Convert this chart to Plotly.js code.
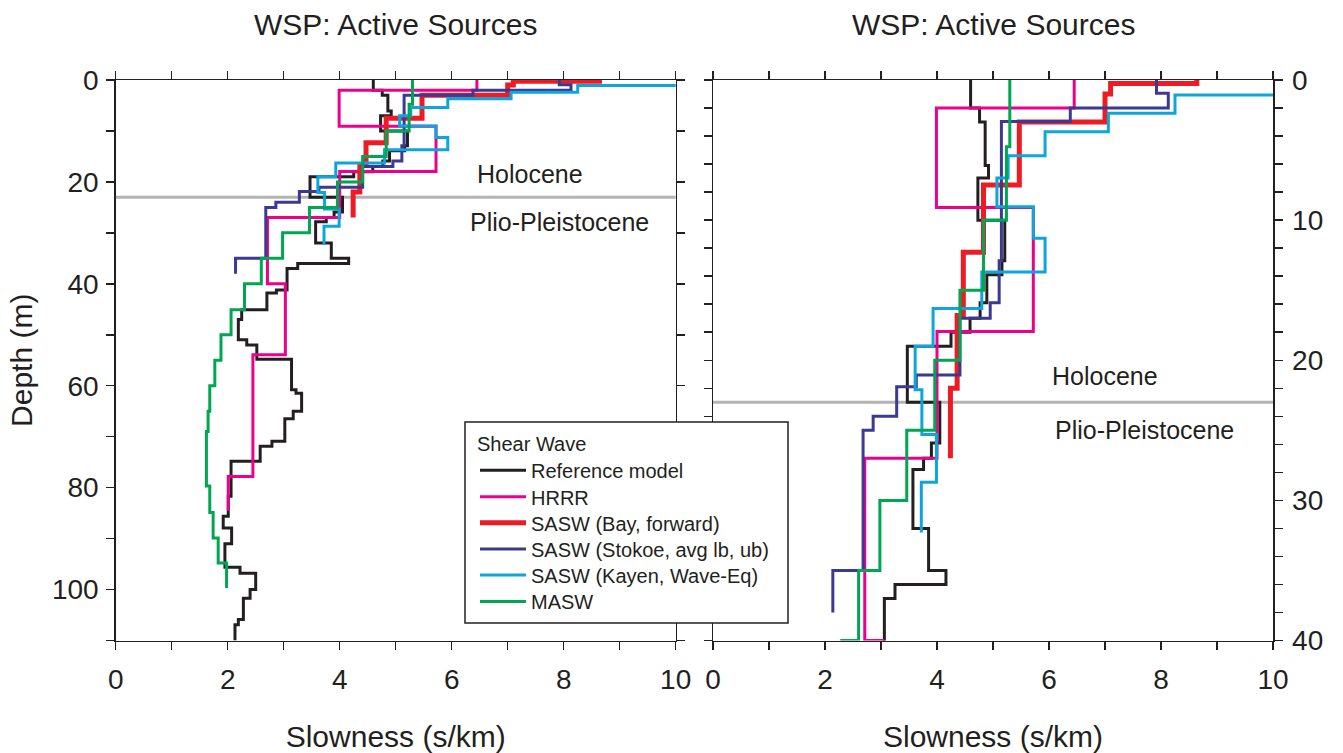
<!DOCTYPE html>
<html>
<head>
<meta charset="utf-8">
<script src="https://cdn.plot.ly/plotly-3.0.1.min.js"></script>
<style>
  html, body { margin: 0; padding: 0; background: #ffffff; }
  #chart { width: 1343px; height: 753px; }
</style>
</head>
<body>
<div id="chart"></div>
<script>
// ---------------- DATA ----------------
// Each profile: layer top depths (m), final bottom depth (m), slowness per layer (s/km)
const seriesNames = ["Reference model", "HRRR", "SASW (Bay, forward)", "SASW (Stokoe, avg lb, ub)", "SASW (Kayen, Wave-Eq)", "MASW"];

const refTops = [0, 2.0, 3.0, 6.1, 7.0, 10.0, 12.9, 13.9, 15.9, 17.0, 18.0, 19.0, 23.0, 25.9, 27.0, 27.8, 32.0, 35.0, 36.0, 37.0, 41.2, 41.8, 45.1, 47.0, 51.0, 52.0, 54.8, 60.8, 61.5, 65.0, 66.5, 70.9, 71.9, 74.8, 81.7, 85.6, 87.9, 91.0, 95.6, 96.8, 100.0, 101.7, 105.9, 106.9];
const refBottom = 110;
const refSlow = [4.60, 4.76, 4.86, 4.92, 4.73, 5.21, 5.16, 4.89, 4.77, 4.59, 4.25, 3.47, 4.05, 3.90, 3.76, 3.57, 3.85, 4.16, 3.25, 3.06, 2.87, 2.70, 2.25, 2.19, 2.34, 2.52, 3.14, 3.22, 3.32, 3.17, 3.02, 2.79, 2.58, 2.06, 2.01, 1.92, 2.07, 1.95, 2.22, 2.50, 2.40, 2.28, 2.19, 2.13];

const hrrrTops = [0, 2.0, 9.1, 17.95, 27.0, 40.0, 53.9, 77.8];
const hrrrBottom = 84.6;
const hrrrSlow = [6.45, 3.99, 5.72, 4.00, 2.71, 3.03, 2.45, 2.01];

const bayTops = [0, 0.25, 1.0, 3.0, 7.5, 12.3, 16.8, 22.0];
const bayBottom = 27.0;
const baySlow = [8.64, 7.10, 7.00, 5.47, 4.83, 4.47, 4.36, 4.24];

const stokoeTops = [0, 0.95, 2.0, 2.97, 12.9, 15.9, 17.0, 21.06, 21.9, 24.0, 25.0, 35.0];
const stokoeBottom = 38.0;
const stokoeSlow = [7.92, 8.13, 6.38, 5.15, 5.11, 4.95, 4.41, 3.63, 3.28, 2.86, 2.68, 2.14];

const kayenTops = [0, 1.07, 2.38, 3.69, 5.4, 7.0, 9.04, 11.3, 13.7, 16.3, 19.0, 22.1, 25.3, 28.7];
const kayenBottom = 32.3;
const kayenSlow = [10.6, 8.25, 7.06, 5.93, 5.27, 5.07, 5.72, 5.93, 4.80, 3.93, 3.61, 3.73, 3.99, 3.72];

const maswTops = [0, 4.76, 10.0, 15.0, 20.0, 25.0, 30.0, 35.0, 40.0, 45.1, 50.0, 55.0, 60.0, 65.0, 69.0, 79.7, 84.9, 89.9, 94.8];
const maswBottom = 99.7;
const maswSlow = [5.30, 5.24, 4.83, 4.41, 3.96, 3.46, 2.98, 2.60, 2.30, 2.06, 1.88, 1.77, 1.68, 1.65, 1.62, 1.68, 1.74, 1.83, 1.98];

const holoceneDepth = 23.0;  // Holocene / Plio-Pleistocene boundary

// tick values / labels
const xTickVals = [0, 1, 2, 3, 4, 5, 6, 7, 8, 9, 10];
const xTickText = ["0", "", "2", "", "4", "", "6", "", "8", "", "10"];
const y1TickVals = [0, 10, 20, 30, 40, 50, 60, 70, 80, 90, 100, 110];
const y1TickText = ["0", "", "20", "", "40", "", "60", "", "80", "", "100", ""];
const y2TickVals = [0, 2, 4, 6, 8, 10, 12, 14, 16, 18, 20, 22, 24, 26, 28, 30, 32, 34, 36, 38, 40];
const y2TickText = ["0", "", "", "", "", "10", "", "", "", "", "20", "", "", "", "", "30", "", "", "", "", "40"];

// ---------------- STYLE ----------------
const colors = ["#231f20", "#ec008c", "#ed1c24", "#3b3990", "#0ea5dc", "#00a651"];
const widths = [3, 3, 5, 3, 3, 3];
const FONT = "Liberation Sans, Arial, Helvetica, sans-serif";
const INK = "#231f20";
const W = 1343, H = 753;

const profiles = [
  [refTops, refBottom, refSlow],
  [hrrrTops, hrrrBottom, hrrrSlow],
  [bayTops, bayBottom, baySlow],
  [stokoeTops, stokoeBottom, stokoeSlow],
  [kayenTops, kayenBottom, kayenSlow],
  [maswTops, maswBottom, maswSlow]
];

const legendIds = ["legend", "legend2", "legend3", "legend4", "legend5", "legend6"];

const traces = [];
[["x", "y", true], ["x2", "y2", false]].forEach(([xa, ya, show]) => {
  profiles.forEach((p, i) => {
    const [tops, bottom, slow] = p;
    traces.push({
      type: "scatter",
      mode: "lines",
      x: slow.concat([slow[slow.length - 1]]),
      y: tops.concat([bottom]),
      xaxis: xa, yaxis: ya,
      name: seriesNames[i],
      legend: legendIds[i],
      showlegend: show,
      line: { color: colors[i], width: widths[i], shape: "vh" },
      hoverinfo: "skip"
    });
  });
});

// plot-area geometry in pixels
const L1 = 115.7, R1 = 675.7, L2 = 713, R2 = 1273, T = 80, B = 640.5;
const fx = v => v / W, fy = v => 1 - v / H;

const axisCommon = {
  showgrid: false, zeroline: false,
  showline: true, linewidth: 1.5, linecolor: INK,
  ticks: "outside", ticklen: 8, tickwidth: 1.5, tickcolor: INK,
  mirror: "ticks",
  tickfont: { family: FONT, size: 28, color: INK }
};

const legendBase = {
  x: fx(475), xanchor: "left", yanchor: "top",
  bgcolor: "rgba(0,0,0,0)", borderwidth: 0,
  font: { family: FONT, size: 20, color: INK },
  itemwidth: 46, tracegroupgap: 0
};
// item centre positions (px) of the six legend rows
const legendRowY = [470.7, 496.7, 522.7, 549, 575, 601.5];

const layout = {
  width: W, height: H,
  margin: { l: 0, r: 0, t: 0, b: 0, pad: 0 },
  paper_bgcolor: "#ffffff", plot_bgcolor: "#ffffff",
  font: { family: FONT, color: INK },
  showlegend: true,
  xaxis: Object.assign({}, axisCommon, {
    domain: [fx(L1), fx(R1)], range: [0, 10], anchor: "y",
    tickmode: "array", tickvals: xTickVals, ticktext: xTickText, ticklabelstandoff: 5,
    title: { text: "Slowness (s/km)", font: { family: FONT, size: 30, color: INK }, standoff: 36 }
  }),
  yaxis: Object.assign({}, axisCommon, {
    domain: [fy(B), fy(T)], range: [110, 0], anchor: "x",
    tickmode: "array", tickvals: y1TickVals, ticktext: y1TickText, ticklabelstandoff: 2,
    title: { text: "Depth (m)", font: { family: FONT, size: 30, color: INK }, standoff: 10 }
  }),
  xaxis2: Object.assign({}, axisCommon, {
    domain: [fx(L2), fx(R2)], range: [0, 10], anchor: "y2",
    tickmode: "array", tickvals: xTickVals, ticktext: xTickText, ticklabelstandoff: 5,
    title: { text: "Slowness (s/km)", font: { family: FONT, size: 30, color: INK }, standoff: 36 }
  }),
  yaxis2: Object.assign({}, axisCommon, {
    domain: [fy(B), fy(T)], range: [40, 0], anchor: "x2", side: "right",
    tickmode: "array", tickvals: y2TickVals, ticktext: y2TickText, ticklabelstandoff: 4
  }),
  legend: Object.assign({}, legendBase, {
    y: fy(legendRowY[0] - 46),
    title: { text: "Shear Wave", font: { family: FONT, size: 20, color: INK } }
  }),
  legend2: Object.assign({}, legendBase, { y: fy(legendRowY[1] - 19.5) }),
  legend3: Object.assign({}, legendBase, { y: fy(legendRowY[2] - 19.5) }),
  legend4: Object.assign({}, legendBase, { y: fy(legendRowY[3] - 19.5) }),
  legend5: Object.assign({}, legendBase, { y: fy(legendRowY[4] - 19.5) }),
  legend6: Object.assign({}, legendBase, { y: fy(legendRowY[5] - 19.5) }),
  shapes: [
    { type: "line", xref: "x domain", yref: "y", x0: 0, x1: 1, y0: holoceneDepth, y1: holoceneDepth,
      line: { color: "#b3b3b3", width: 3 }, layer: "below" },
    { type: "line", xref: "x2 domain", yref: "y2", x0: 0, x1: 1, y0: holoceneDepth, y1: holoceneDepth,
      line: { color: "#b3b3b3", width: 3 }, layer: "below" },
    { type: "rect", xref: "paper", yref: "paper", x0: fx(465), x1: fx(788), y0: fy(623), y1: fy(422),
      fillcolor: "#ffffff", line: { color: INK, width: 1.5 }, layer: "above" }
  ],
  annotations: [
    { text: "WSP: Active Sources", xref: "paper", yref: "paper", x: fx((L1 + R1) / 2), y: fy(25),
      xanchor: "center", yanchor: "middle", showarrow: false, font: { family: FONT, size: 30, color: INK } },
    { text: "WSP: Active Sources", xref: "paper", yref: "paper", x: fx((L2 + R2) / 2), y: fy(25),
      xanchor: "center", yanchor: "middle", showarrow: false, font: { family: FONT, size: 30, color: INK } },
    { text: "Holocene", xref: "x", yref: "y", x: 7.40, y: 18.4, showarrow: false,
      font: { family: FONT, size: 25, color: INK } },
    { text: "Plio-Pleistocene", xref: "x", yref: "y", x: 7.93, y: 27.8, showarrow: false,
      font: { family: FONT, size: 25, color: INK } },
    { text: "Holocene", xref: "x2", yref: "y2", x: 7.0, y: 21.1, showarrow: false,
      font: { family: FONT, size: 25, color: INK } },
    { text: "Plio-Pleistocene", xref: "x2", yref: "y2", x: 7.71, y: 25.0, showarrow: false,
      font: { family: FONT, size: 25, color: INK } }
  ]
};

Plotly.newPlot("chart", traces, layout, { displayModeBar: false, staticPlot: true });
</script>
</body>
</html>
